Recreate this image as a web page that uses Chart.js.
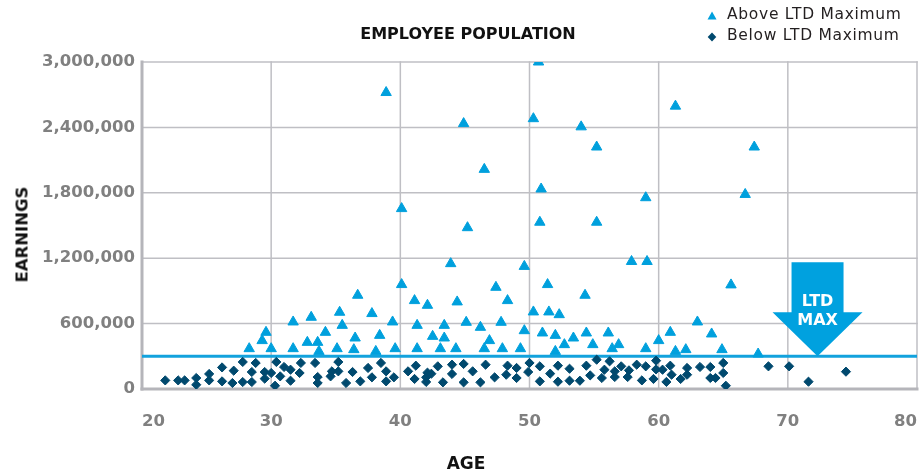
<!DOCTYPE html>
<html>
<head>
<meta charset="utf-8">
<title>Employee Population</title>
<script src="https://cdn.jsdelivr.net/npm/chart.js@4"></script>
<style>
  html, body { margin: 0; padding: 0; background: #fff; }
  #wrap { position: relative; width: 924px; height: 472px; overflow: hidden; }
  #chart { position: absolute; left: 0; top: 0; }
  .txt { position: absolute; white-space: nowrap; color: #111; }
  #chart-title { left: 0; width: 936px; top: 23.5px; line-height: 20px; text-align: center;
    font: bold 16px "DejaVu Sans", sans-serif; }
  #x-title { left: 366px; width: 200px; top: 452.7px; line-height: 20px; text-align: center;
    font: bold 17px "DejaVu Sans", sans-serif; }
  #y-title { left: -78.5px; width: 200px; top: 225px; line-height: 20px; text-align: center;
    font: bold 16.5px "DejaVu Sans", sans-serif; transform: rotate(-90deg); }
  .legend-label { left: 727px; line-height: 22px; font: 15.5px "DejaVu Sans", sans-serif;
    letter-spacing: 0.7px; color: #231f20; }
  .legend-mark { position: absolute; }
  #ltd-label { width: 80px; line-height: 19px; text-align: center; color: #fff;
    font: bold 16px "DejaVu Sans", sans-serif; }
  .age-tick { width: 60px; line-height: 20px; color: #808080;
    font: bold 16.5px "DejaVu Sans", sans-serif; }
</style>
</head>
<body>
<div id="wrap">
  <canvas id="chart" width="924" height="472"></canvas>
  <div id="chart-title" class="txt">EMPLOYEE POPULATION</div>
  <svg class="legend-mark" style="left:706.5px;top:11px" width="10" height="9"><polygon points="0.5,8.5 5,0.5 9.5,8.5" fill="#00a0dd"/></svg>
  <div class="txt legend-label" style="top:4.5px">Above LTD Maximum</div>
  <svg class="legend-mark" style="left:707px;top:32px" width="10" height="10"><polygon points="5,0.5 9.3,5 5,9.5 0.7,5" fill="#00496e"/></svg>
  <div class="txt legend-label" style="top:26px">Below LTD Maximum</div>
  <div id="y-title" class="txt">EARNINGS</div>
  <div id="x-title" class="txt">AGE</div>
  <div id="ltd-label" class="txt">LTD<br>MAX</div>
</div>
<script>
// Employees earning above the LTD maximum
const aboveAges = [
  28.3, 29.3, 29.6, 30.0, 31.7, 31.7, 32.8, 33.1, 33.6, 33.7, 34.2, 35.1, 35.3, 35.5, 36.4,
  36.5, 36.7, 37.8, 38.1, 38.4, 38.9, 39.4, 39.6, 40.1, 40.1, 41.1, 41.3, 41.3, 42.1, 42.5,
  43.1, 43.4, 43.4, 43.9, 44.3, 44.4, 44.9, 45.1, 45.2, 46.2, 46.5, 46.5, 46.9, 47.4, 47.8,
  47.9, 48.3, 49.3, 49.6, 49.6, 50.3, 50.3, 50.7, 50.8, 50.9, 51.0, 51.4, 51.5, 52.0, 52.0,
  52.3, 52.7, 53.4, 54.0, 54.3, 54.4, 54.9, 55.2, 55.2, 56.1, 56.4, 56.9, 57.9, 59.0, 59.0,
  59.1, 60.0, 60.9, 61.3, 61.3, 62.1, 63.0, 64.1, 64.9, 65.6, 66.7, 67.4, 67.7
];
const aboveEarnings = [
  370000, 444000, 520000, 370000, 615000, 370000, 428000, 658000, 428000, 345000, 520000, 370000, 704000, 584000, 361000,
  468000, 860000, 692000, 345000, 492000, 2720000, 615000, 370000, 958000, 1655000, 811000, 584000, 370000, 768000, 483000,
  370000, 584000, 468000, 1150000, 370000, 799000, 2435000, 612000, 1480000, 566000, 2015000, 370000, 444000, 933000, 612000,
  370000, 811000, 370000, 1125000, 535000, 2480000, 707000, 3000000, 1530000, 1835000, 514000, 958000, 707000, 492000, 345000,
  682000, 407000, 468000, 2405000, 860000, 514000, 407000, 2220000, 1530000, 514000, 370000, 407000, 1170000, 1755000, 370000,
  1170000, 444000, 520000, 2595000, 345000, 361000, 615000, 505000, 361000, 955000, 1785000, 2220000, 321000
];

// Employees earning below the LTD maximum
const belowAges = [
  21.8, 22.8, 23.3, 24.2, 24.2, 25.2, 25.2, 26.2, 26.2, 27.0, 27.1, 27.8, 27.8, 28.5, 28.5,
  28.8, 29.5, 29.5, 30.0, 30.3, 30.4, 30.7, 31.0, 31.5, 31.5, 32.2, 32.3, 33.4, 33.6, 33.6,
  34.6, 34.7, 35.2, 35.2, 35.8, 36.3, 36.9, 37.5, 37.8, 38.5, 38.9, 38.9, 39.5, 40.6, 41.1,
  41.2, 42.0, 42.0, 42.1, 42.4, 42.9, 43.3, 44.0, 44.0, 44.9, 44.9, 45.6, 46.2, 46.6, 47.3,
  48.2, 48.3, 49.0, 49.0, 49.9, 50.0, 50.8, 50.8, 51.6, 52.2, 52.2, 53.1, 53.1, 53.9, 54.4,
  54.7, 55.2, 55.6, 55.8, 56.2, 56.6, 56.6, 57.1, 57.7, 57.6, 58.3, 58.7, 59.0, 59.6, 59.8,
  59.8, 60.3, 60.6, 60.9, 61.0, 61.7, 62.2, 62.2, 63.2, 64.0, 64.0, 64.4, 65.0, 65.0, 65.2,
  68.5, 70.1, 71.6, 74.5
];
const belowEarnings = [
  79000, 79000, 79000, 101000, 39000, 138000, 79000, 198000, 70000, 55000, 168000, 248000, 64000, 156000, 64000,
  239000, 156000, 95000, 147000, 30000, 248000, 116000, 202000, 177000, 76000, 147000, 239000, 239000, 110000, 55000,
  116000, 162000, 248000, 162000, 55000, 156000, 70000, 193000, 107000, 239000, 162000, 70000, 107000, 162000, 92000,
  214000, 107000, 65000, 150000, 140000, 208000, 61000, 223000, 138000, 230000, 61000, 162000, 61000, 223000, 107000,
  131000, 214000, 193000, 101000, 156000, 239000, 208000, 70000, 141000, 214000, 67000, 186000, 76000, 76000, 214000,
  125000, 269000, 101000, 177000, 254000, 162000, 110000, 208000, 171000, 110000, 223000, 79000, 208000, 92000, 260000,
  180000, 177000, 65000, 214000, 131000, 92000, 193000, 131000, 202000, 202000, 101000, 101000, 239000, 147000, 30000,
  208000, 208000, 67000, 159000
];

// Axis ticks
const ageTicks = [20, 30, 40, 50, 60, 70, 80];
const earningsTicks = [0, 600000, 1200000, 1800000, 2400000, 3000000];

// LTD maximum earnings level and where its marker arrow sits along the age axis
const ltdMaximum = 300000;
const ltdMarkerAge = 72.3;

const COLOR_ABOVE = '#00a0dd';
const COLOR_BELOW = '#00496e';
const COLOR_LIMIT = '#12a2dd';
const COLOR_ARROW = '#00a1df';
const COLOR_GRID = '#bfbfc4';
const COLOR_AXIS = '#b5b5ba';
const COLOR_TICK = '#808080';

const AGE_MIN = ageTicks[0];
const AGE_MAX = ageTicks[ageTicks.length - 1];
const EARN_MIN = earningsTicks[0];
const EARN_MAX = earningsTicks[earningsTicks.length - 1];

const tickFont = () => ({ family: '"DejaVu Sans", sans-serif', weight: 'bold', size: 16.5 });
const toPoints = (xs, ys) => xs.map((x, i) => ({ x, y: ys[i] }));

// Straight two-point segments used for the grid and the axis lines
const segment = (from, to, color, width, order) => ({
  data: [from, to],
  showLine: true,
  pointRadius: 0,
  borderColor: color,
  borderWidth: width,
  borderCapStyle: 'square',
  clip: false,
  order
});
const gridSegments = [
  ...ageTicks.slice(1).map((v) => segment({ x: v, y: EARN_MIN }, { x: v, y: EARN_MAX }, COLOR_GRID, 1.5, 20)),
  ...earningsTicks.slice(1).map((v) => segment({ x: AGE_MIN, y: v }, { x: AGE_MAX, y: v }, COLOR_GRID, 1.5, 20))
];
const axisSegments = [
  segment({ x: AGE_MIN, y: EARN_MIN }, { x: AGE_MIN, y: EARN_MAX }, COLOR_AXIS, 3, 10),
  segment({ x: AGE_MIN, y: EARN_MIN }, { x: AGE_MAX, y: EARN_MIN }, COLOR_AXIS, 3, 10)
];

// Downward arrow whose tip rests on the LTD maximum line; its "LTD MAX" caption follows it
const ltdArrow = {
  id: 'ltdArrow',
  afterDatasetsDraw(chart) {
    const { ctx, scales: { x, y } } = chart;
    const tipX = x.getPixelForValue(ltdMarkerAge);
    const tipY = y.getPixelForValue(ltdMaximum);
    const shaftHalf = 26, headHalf = 45, headLen = 44, totalLen = 94;
    ctx.save();
    ctx.fillStyle = COLOR_ARROW;
    ctx.beginPath();
    ctx.moveTo(tipX - shaftHalf, tipY - totalLen);
    ctx.lineTo(tipX + shaftHalf, tipY - totalLen);
    ctx.lineTo(tipX + shaftHalf, tipY - headLen);
    ctx.lineTo(tipX + headHalf, tipY - headLen);
    ctx.lineTo(tipX, tipY);
    ctx.lineTo(tipX - headHalf, tipY - headLen);
    ctx.lineTo(tipX - shaftHalf, tipY - headLen);
    ctx.closePath();
    ctx.fill();
    ctx.restore();
    const label = document.getElementById('ltd-label');
    label.style.left = (tipX - 40) + 'px';
    label.style.top = (tipY - 65.5) + 'px';
  }
};

const chart = new Chart(document.getElementById('chart'), {
  type: 'scatter',
  data: {
    datasets: [
      {
        label: 'Above LTD Maximum',
        data: toPoints(aboveAges, aboveEarnings),
        pointStyle: 'triangle',
        pointRadius: 6,
        backgroundColor: COLOR_ABOVE,
        borderColor: COLOR_ABOVE,
        borderWidth: 1,
        order: 1
      },
      {
        label: 'Below LTD Maximum',
        data: toPoints(belowAges, belowEarnings),
        pointStyle: 'rectRot',
        pointRadius: 4.6,
        backgroundColor: COLOR_BELOW,
        borderColor: COLOR_BELOW,
        borderWidth: 1,
        order: 2
      },
      {
        label: 'LTD Maximum',
        data: [{ x: AGE_MIN, y: ltdMaximum }, { x: AGE_MAX, y: ltdMaximum }],
        showLine: true,
        borderColor: COLOR_LIMIT,
        borderWidth: 3,
        pointRadius: 0,
        order: 3
      },
      ...axisSegments,
      ...gridSegments
    ]
  },
  options: {
    responsive: false,
    animation: false,
    events: [],
    layout: { padding: { top: 62, right: 7, bottom: 0, left: 0 } },
    plugins: {
      legend: { display: false },
      tooltip: { enabled: false }
    },
    scales: {
      x: {
        type: 'linear',
        min: AGE_MIN,
        max: AGE_MAX,
        afterBuildTicks: (scale) => { scale.ticks = ageTicks.map((v) => ({ value: v })); },
        afterFit: (scale) => { scale.height = 83; },
        grid: { display: false, drawTicks: false },
        border: { display: false },
        ticks: { display: false }
      },
      y: {
        min: EARN_MIN,
        max: EARN_MAX,
        afterBuildTicks: (scale) => { scale.ticks = earningsTicks.map((v) => ({ value: v })); },
        afterFit: (scale) => { scale.width = 142; },
        grid: { display: false, drawTicks: false },
        border: { display: false },
        ticks: {
          padding: 7,
          color: COLOR_TICK,
          font: tickFont(),
          callback: (v) => Number(v).toLocaleString('en-US')
        }
      }
    }
  },
  plugins: [ltdArrow]
});

// Age labels under the axis; the first and last sit inside the plot edges
const wrap = document.getElementById('wrap');
const labelCentre = chart.scales.y.getPixelForValue(EARN_MIN) + 32;
ageTicks.forEach((v, i) => {
  const px = chart.scales.x.getPixelForValue(v);
  const el = document.createElement('div');
  el.className = 'txt age-tick';
  el.textContent = String(v);
  if (i === 0) {
    el.style.left = px + 'px';
    el.style.textAlign = 'left';
  } else if (i === ageTicks.length - 1) {
    el.style.left = (px - 60) + 'px';
    el.style.textAlign = 'right';
  } else {
    el.style.left = (px - 30) + 'px';
    el.style.textAlign = 'center';
  }
  el.style.top = (labelCentre - 10) + 'px';
  wrap.appendChild(el);
});
</script>
</body>
</html>
